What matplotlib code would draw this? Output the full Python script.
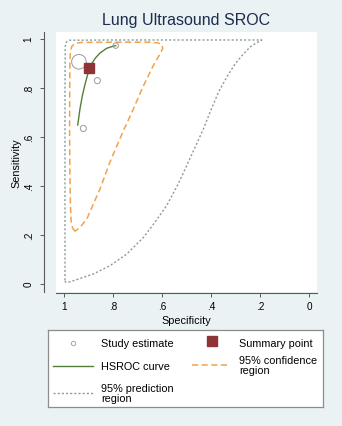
import matplotlib
matplotlib.use("Agg")
import matplotlib.pyplot as plt

plt.rcParams['font.family'] = ['Liberation Sans', 'DejaVu Sans']

# Study estimates (specificity, sensitivity, relative weight)
study_spec = [0.939, 0.789, 0.864, 0.921]
study_sens = [0.907, 0.973, 0.830, 0.635]
study_weight = [5.8, 0.8, 1.0, 1.0]

# Summary point
summary_spec = 0.896
summary_sens = 0.880

# HSROC curve
hsroc_spec = [0.944, 0.935, 0.925, 0.914, 0.903, 0.890, 0.873, 0.853, 0.826, 0.805, 0.789]
hsroc_sens = [0.649, 0.714, 0.769, 0.816, 0.857, 0.894, 0.921, 0.943, 0.962, 0.969, 0.973]

# 95% confidence region
conf_spec = [0.955, 0.965, 0.971, 0.974, 0.976, 0.977, 0.977, 0.976, 0.974, 0.968,
             0.955, 0.930, 0.800, 0.650, 0.615, 0.600, 0.597, 0.608, 0.636, 0.680,
             0.717, 0.760, 0.812, 0.833, 0.853, 0.880, 0.907, 0.935, 0.955]
conf_sens = [0.215, 0.228, 0.258, 0.330, 0.450, 0.600, 0.750, 0.900, 0.950, 0.970,
             0.982, 0.986, 0.987, 0.987, 0.984, 0.975, 0.962, 0.939, 0.891, 0.800,
             0.714, 0.620, 0.499, 0.442, 0.388, 0.327, 0.265, 0.231, 0.215]

# 95% prediction region
pred_spec = [0.996, 0.996, 0.996, 0.996, 0.995, 0.990, 0.978, 0.800, 0.500, 0.250,
             0.200, 0.193, 0.234, 0.268, 0.302, 0.336, 0.370, 0.404, 0.431, 0.465,
             0.493, 0.534, 0.581, 0.629, 0.676, 0.744, 0.812, 0.880, 0.948, 0.982,
             0.994, 0.996]
pred_sens = [0.015, 0.200, 0.500, 0.800, 0.970, 0.988, 0.995, 0.996, 0.996, 0.996,
             0.996, 0.996, 0.973, 0.939, 0.898, 0.844, 0.782, 0.701, 0.633, 0.558,
             0.497, 0.408, 0.320, 0.252, 0.190, 0.122, 0.075, 0.041, 0.018, 0.007,
             0.008, 0.015]

ticks = [0, 0.2, 0.4, 0.6, 0.8, 1]
tick_labels = ['0', '.2', '.4', '.6', '.8', '1']

bg = '#EAF2F3'
green = '#557F38'
orange = '#F2A24A'
gray = '#8A9C9A'
maroon = '#8E3436'
axcol = '#5A5A5A'
fs = 7.8

fig = plt.figure(figsize=(3.42, 4.27), dpi=100, facecolor=bg)
ax = fig.add_axes([56/342, (427-293)/427, 261/342, 260/427])
ax.set_facecolor('white')

ax.plot(pred_spec, pred_sens, color=gray, lw=1.0, linestyle=(0, (1.5, 1.5)))
ax.plot(conf_spec, conf_sens, color=orange, lw=1.1, linestyle=(0, (4.0, 2.3)))
ax.plot(hsroc_spec, hsroc_sens, color=green, lw=1.0)
ax.scatter(study_spec, study_sens, s=[w * 19 for w in study_weight],
           facecolors='none', edgecolors='#9A9A9A', linewidths=0.7, zorder=3)
ax.plot([summary_spec], [summary_sens], marker='s', markersize=6.5,
        color=maroon, linestyle='none', zorder=4)

ax.set_xlim(1.0327, -0.0327)
ax.set_ylim(-0.0327, 1.0286)
ax.set_xticks(ticks)
ax.set_xticklabels(tick_labels)
ax.set_yticks(ticks)
ax.set_yticklabels(tick_labels)
ax.tick_params(length=3, width=0.7, color=axcol, labelsize=7.2)
ax.tick_params(axis='x', pad=3)
ax.tick_params(axis='y', pad=4.5, labelrotation=90)
for lbl in ax.get_yticklabels():
    lbl.set_va('center')

for s in ['top', 'right']:
    ax.spines[s].set_visible(False)
ax.spines['left'].set_position(('outward', 8.6))
ax.spines['bottom'].set_position(('outward', 0.5))
for s in ['left', 'bottom']:
    ax.spines[s].set_linewidth(0.8)
    ax.spines[s].set_color(axcol)

ax.set_xlabel('Specificity', fontsize=fs, labelpad=3)
ax.set_ylabel('Sensitivity', fontsize=fs)
ax.yaxis.set_label_coords(-35/261, 0.5)
ax.set_title('Lung Ultrasound SROC', fontsize=11.5, color='#1C2B4F', pad=6)

# Legend box
lax = fig.add_axes([48/342, (427-408)/427, 275/342, 77/427])
lax.set_xlim(48, 323)
lax.set_ylim(408, 331)
lax.set_xticks([])
lax.set_yticks([])
lax.set_facecolor('white')
for s in lax.spines.values():
    s.set_color('#8C8C8C')
    s.set_linewidth(0.9)

lax.plot([72.7], [344], marker='o', markersize=3.2, markerfacecolor='none',
         markeredgecolor='#9A9A9A', markeredgewidth=0.6)
lax.text(101, 344.5, 'Study estimate', fontsize=fs, va='center')
lax.plot([53, 93], [366.5, 366.5], color=green, lw=1.0)
lax.text(101, 367, 'HSROC curve', fontsize=fs, va='center')
lax.plot([53, 93], [393.5, 393.5], color=gray, lw=1.0, linestyle=(0, (1.5, 1.5)))
lax.text(101, 394, '95% prediction\nregion', fontsize=fs, va='center', linespacing=1.05)
lax.plot([211.7], [342], marker='s', markersize=6.5, color=maroon)
lax.text(239, 344.5, 'Summary point', fontsize=fs, va='center')
lax.plot([192, 228], [366, 366], color=orange, lw=1.1, linestyle=(0, (4.0, 2.3)))
lax.text(239, 366, '95% confidence\nregion', fontsize=fs, va='center', linespacing=1.05)

fig.savefig('out.png', dpi=100, facecolor=bg)
